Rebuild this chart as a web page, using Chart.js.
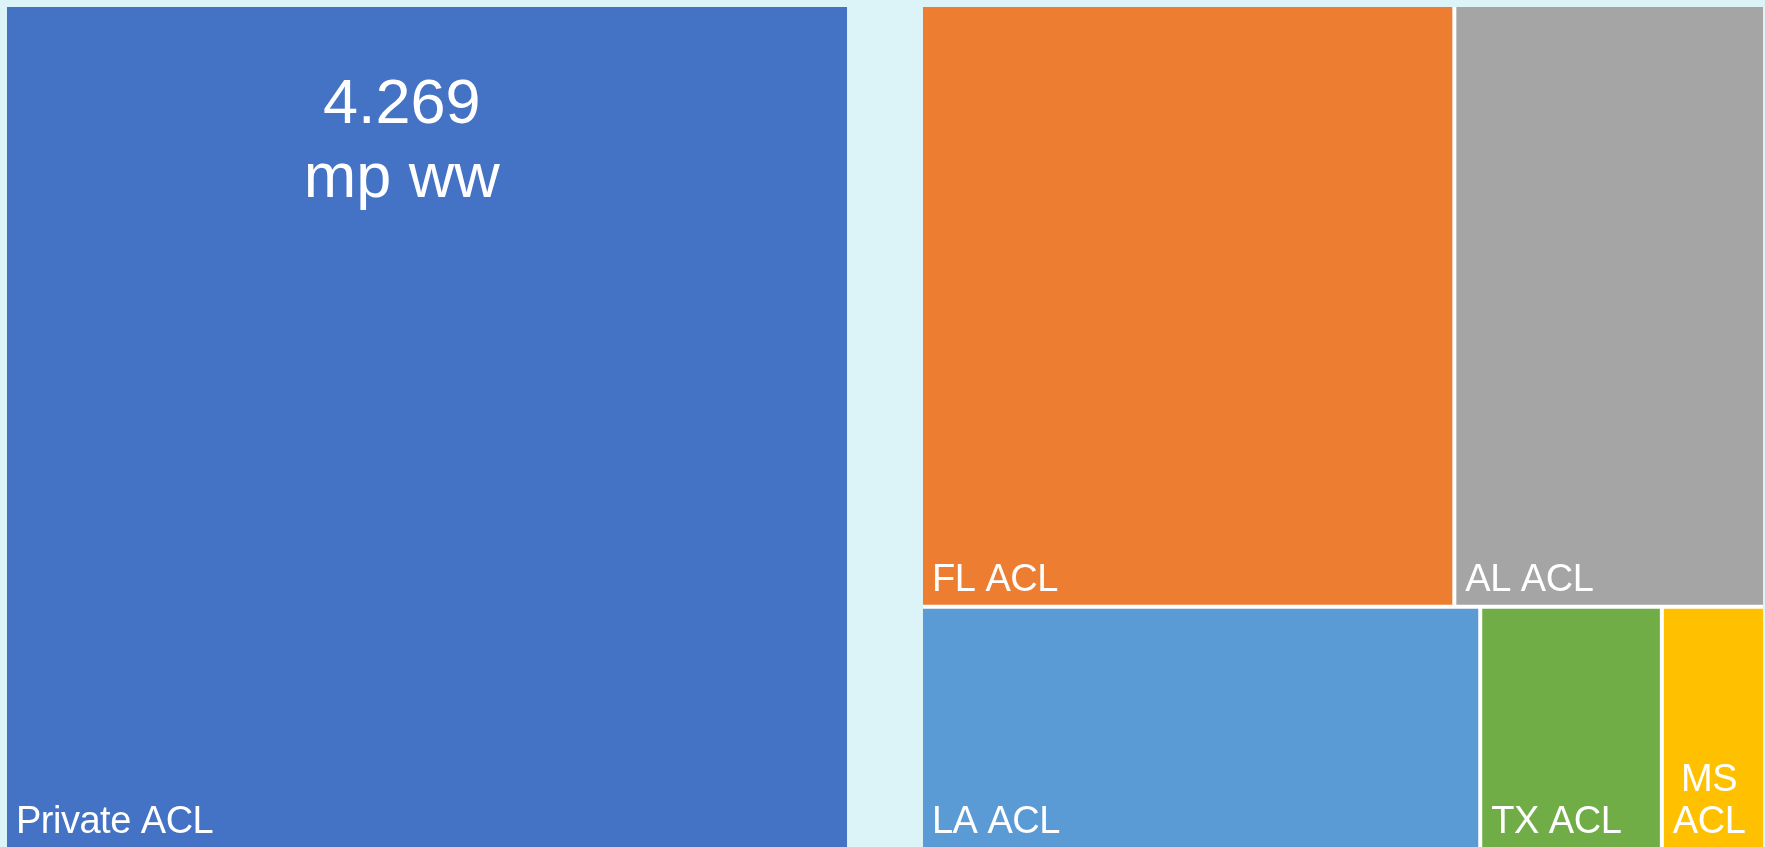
<!DOCTYPE html>
<html>
<head>
<meta charset="utf-8">
<script src="https://cdn.jsdelivr.net/npm/chart.js@4.4.1/dist/chart.umd.min.js"></script>
<style>
html, body { margin:0; padding:0; background:#dcf4f8; }
#wrap { width:1765px; height:847px; }
</style>
</head>
<body>
<div id="wrap"><canvas id="mycanvas"></canvas></div>
<script>
// treemap data
var labels = ['Private ACL', 'FL ACL', 'AL ACL', 'LA ACL', 'TX ACL', 'MS ACL'];
var values = [4.269, 1.928, 1.120, 0.810, 0.264, 0.147];
var columns = [0, 1, 1, 1, 1, 1];   // which block the cell sits in
var rows = [0, 0, 0, 1, 1, 1];      // row inside that block
var colors = ['#4472c4', '#ed7d31', '#a5a5a5', '#5b9bd5', '#70ad47', '#ffc000'];
var headline = ['4.269', 'mp ww'];

var colGap = 0.386;   // space between the two blocks, in value units
var cellGap = 2;      // half the white line between cells, px
var fontFam = '"Liberation Sans", Arial, sans-serif';

// work out block / row / cell extents from the values
function layout() {
    var colSum = {};
    var rowSum = {};
    for (var i = 0; i < values.length; i++) {
        colSum[columns[i]] = (colSum[columns[i]] || 0) + values[i];
        var k = columns[i] + '_' + rows[i];
        rowSum[k] = (rowSum[k] || 0) + values[i];
    }
    var cols = Object.keys(colSum).map(Number).sort();
    var colStart = {};
    var x = 0;
    cols.forEach(function(c, n) {
        colStart[c] = x;
        x += colSum[c] + (n < cols.length - 1 ? colGap : 0);
    });
    var total = x;

    var cells = [];
    var rowY = {};
    var rowX = {};
    for (var i = 0; i < values.length; i++) {
        var c = columns[i];
        var k = c + '_' + rows[i];
        if (rowY[k] === undefined) {
            // rows above this one in same column
            var y = 0;
            for (var r = 0; r < rows[i]; r++) {
                y += (rowSum[c + '_' + r] || 0) / colSum[c];
            }
            rowY[k] = y;
            rowX[k] = colStart[c];
        }
        var h = rowSum[k] / colSum[c];
        var w = values[i] / rowSum[k] * colSum[c];
        cells.push({
            i: i,
            x0: rowX[k], x1: rowX[k] + w,
            y0: rowY[k], y1: rowY[k] + h,
            cx0: colStart[c], cx1: colStart[c] + colSum[c]
        });
        rowX[k] += w;
    }
    return { cells: cells, total: total, colStart: colStart, colSum: colSum };
}

var tm = layout();

function wrapText(ctx, text, maxW) {
    if (ctx.measureText(text).width <= maxW) return [text];
    return text.split(' ');
}

var treemapPlugin = {
    id: 'treemapCells',
    beforeDatasetsDraw: function(chart) {
        var ctx = chart.ctx;
        var xs = chart.scales.x;
        var ys = chart.scales.y;
        ctx.save();

        // white backing for blocks so the cell gaps show white
        Object.keys(tm.colStart).forEach(function(c) {
            var a = xs.getPixelForValue(tm.colStart[c]);
            var b = xs.getPixelForValue(tm.colStart[c] + tm.colSum[c]);
            ctx.fillStyle = '#ffffff';
            ctx.fillRect(a, ys.getPixelForValue(0), b - a, ys.getPixelForValue(1) - ys.getPixelForValue(0));
        });

        var eps = 1e-6;
        tm.cells.forEach(function(cell) {
            var l = xs.getPixelForValue(cell.x0);
            var r = xs.getPixelForValue(cell.x1);
            var t = ys.getPixelForValue(cell.y0);
            var b = ys.getPixelForValue(cell.y1);
            if (cell.x0 > cell.cx0 + eps) l += cellGap;
            if (cell.x1 < cell.cx1 - eps) r -= cellGap;
            if (cell.y0 > eps) t += cellGap;
            if (cell.y1 < 1 - eps) b -= cellGap;
            cell.px = { l: l, r: r, t: t, b: b };

            ctx.fillStyle = colors[cell.i];
            ctx.fillRect(l, t, r - l, b - t);

            // name label bottom-left
            ctx.fillStyle = '#ffffff';
            ctx.font = '38px ' + fontFam;
            ctx.letterSpacing = '-0.5px';
            ctx.textAlign = 'left';
            ctx.textBaseline = 'alphabetic';
            var lines = wrapText(ctx, labels[cell.i], r - l - 20);
            var blockW = 0;
            lines.forEach(function(s) { blockW = Math.max(blockW, ctx.measureText(s).width); });
            for (var n = 0; n < lines.length; n++) {
                var lw = ctx.measureText(lines[n]).width;
                var yy = b - 14 - (lines.length - 1 - n) * 42;
                ctx.fillText(lines[n], l + 9 + (blockW - lw) / 2, yy);
            }
        });

        // headline on the largest cell
        var big = tm.cells[0].px;
        ctx.font = '63px ' + fontFam;
        ctx.letterSpacing = '0px';
        ctx.textAlign = 'center';
        ctx.fillStyle = '#ffffff';
        var cx = big.l + (big.r - big.l) * 0.47;
        ctx.fillText(headline[0], cx, big.t + 116);
        ctx.fillText(headline[1], cx, big.t + 190);

        ctx.restore();
    }
};

var ctx = document.getElementById('mycanvas');

var treeChart = new Chart(ctx, {
    type: 'scatter',
    data: {
        datasets: [{ data: [] }]
    },
    options: {
        responsive: true,
        maintainAspectRatio: false,
        animation: false,
        layout: { padding: { left: 7, top: 7, right: 2, bottom: 0 } },
        plugins: {
            legend: { display: false },
            tooltip: { enabled: false }
        },
        scales: {
            x: { type: 'linear', min: 0, max: tm.total, display: false },
            y: { type: 'linear', min: 0, max: 1, reverse: true, display: false }
        }
    },
    plugins: [treemapPlugin]
});
</script>
</body>
</html>
